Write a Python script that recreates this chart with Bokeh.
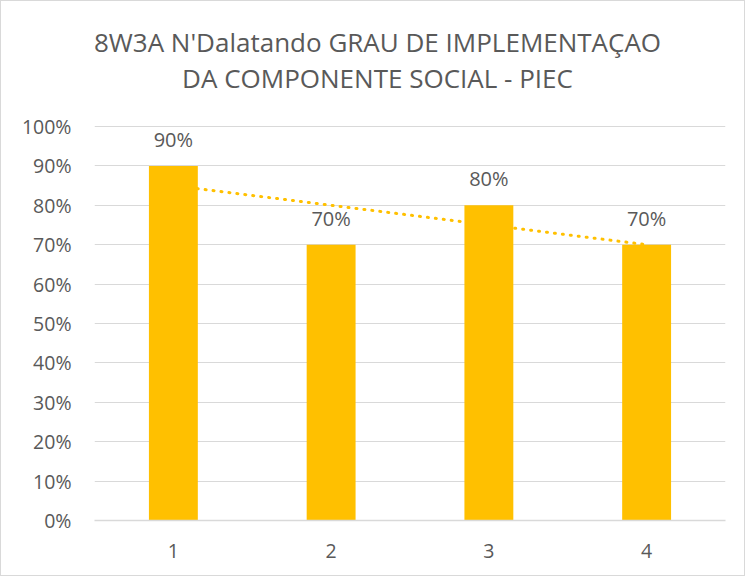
import numpy as np
from bokeh.plotting import figure
from bokeh.models import (ColumnDataSource, LabelSet, Label, FixedTicker,
                          NumeralTickFormatter, Range1d)
from bokeh.core.properties import value
from bokeh.embed import file_html
from bokeh.resources import INLINE

# ---- data ----
categories = [1, 2, 3, 4]
values = [0.90, 0.70, 0.80, 0.70]
value_labels = ["90%", "70%", "80%", "70%"]
y_ticks = [0.0, 0.1, 0.2, 0.3, 0.4, 0.5, 0.6, 0.7, 0.8, 0.9, 1.0]
title_line1 = "8W3A N'Dalatando GRAU DE IMPLEMENTAÇAO"
title_line2 = "DA COMPONENTE SOCIAL - PIEC"

FONT = "Open Sans"
TXT = "#595959"
GOLD = "#FFC000"
GRID = "#D9D9D9"

# ---- layout (pixels, relative to the figure's top-left) ----
W, H = 745, 576
B_LEFT, B_RIGHT, B_TOP, B_BOTTOM = 93, 21, 10, 57
PLOT_TOP_PX = 125          # where the 100% gridline sits
FRAME_W = W - B_LEFT - B_RIGHT
FRAME_H = H - B_TOP - B_BOTTOM
X0, X1 = 0.5, 4.5
Y0 = 0.0
# the frame reaches up into the title area; 100% stays at PLOT_TOP_PX
Y1 = 1.0 * FRAME_H / (H - B_BOTTOM - PLOT_TOP_PX)

def px_to_data(px_x, px_y):
    """convert a canvas pixel position (from top-left) to data coordinates"""
    dx = X0 + (px_x - B_LEFT) / FRAME_W * (X1 - X0)
    dy = Y1 - (px_y - B_TOP) / FRAME_H * (Y1 - Y0)
    return dx, dy

# linear trendline (Excel-style) fitted to the series
slope, intercept = np.polyfit(categories, values, 1)
trend_x = [categories[0], categories[-1]]
trend_y = [slope * x + intercept for x in trend_x]

p = figure(width=W, height=H, output_backend="svg", toolbar_location=None,
           x_range=Range1d(X0, X1), y_range=Range1d(Y0, Y1))
p.min_border_left = B_LEFT
p.min_border_right = B_RIGHT
p.min_border_top = B_TOP
p.min_border_bottom = B_BOTTOM
p.outline_line_color = None
p.background_fill_color = "white"
p.border_fill_color = "white"
p.styles = {"border": "1px solid #D9D9D9", "box-sizing": "border-box"}

src = ColumnDataSource(dict(x=categories, top=values, lab=value_labels))
p.vbar(x="x", top="top", width=0.31, source=src, fill_color=GOLD, line_color=None)
p.line(trend_x, trend_y, line_color=GOLD, line_width=3, line_dash="1 7",
       line_cap="round")

labels = LabelSet(x="x", y="top", text="lab", source=src, text_align="center",
                  text_baseline="bottom", y_offset=13, text_color=TXT,
                  text_font=value(FONT), text_font_size="20px")
p.add_layout(labels)

# axes
p.yaxis.ticker = FixedTicker(ticks=y_ticks)
p.yaxis.formatter = NumeralTickFormatter(format="0%")
p.yaxis.axis_line_color = None
p.yaxis.major_tick_line_color = None
p.yaxis.minor_tick_line_color = None
p.yaxis.major_label_standoff = 17
p.yaxis.major_label_text_font = FONT
p.yaxis.major_label_text_font_size = "19.5px"
p.yaxis.major_label_text_color = TXT

p.xaxis.ticker = FixedTicker(ticks=categories)
p.xaxis.axis_line_color = GRID
p.xaxis.axis_line_width = 1.5
p.xaxis.major_tick_line_color = None
p.xaxis.minor_tick_line_color = None
p.xaxis.major_label_standoff = 17
p.xaxis.major_label_text_font = FONT
p.xaxis.major_label_text_font_size = "19.5px"
p.xaxis.major_label_text_color = TXT

p.xgrid.grid_line_color = None
p.ygrid.grid_line_color = GRID
p.ygrid.ticker = FixedTicker(ticks=y_ticks)

# two-line title, centred on the whole chart
for txt, base_px in [(title_line1, 40), (title_line2, 76)]:
    tx, ty = px_to_data(376, base_px)
    p.add_layout(Label(x=tx, y=ty, text=txt, text_align="center",
                       text_baseline="alphabetic", text_font=FONT,
                       text_font_size="26px", text_color=TXT))

open("out.html", "w").write(file_html(p, INLINE))
